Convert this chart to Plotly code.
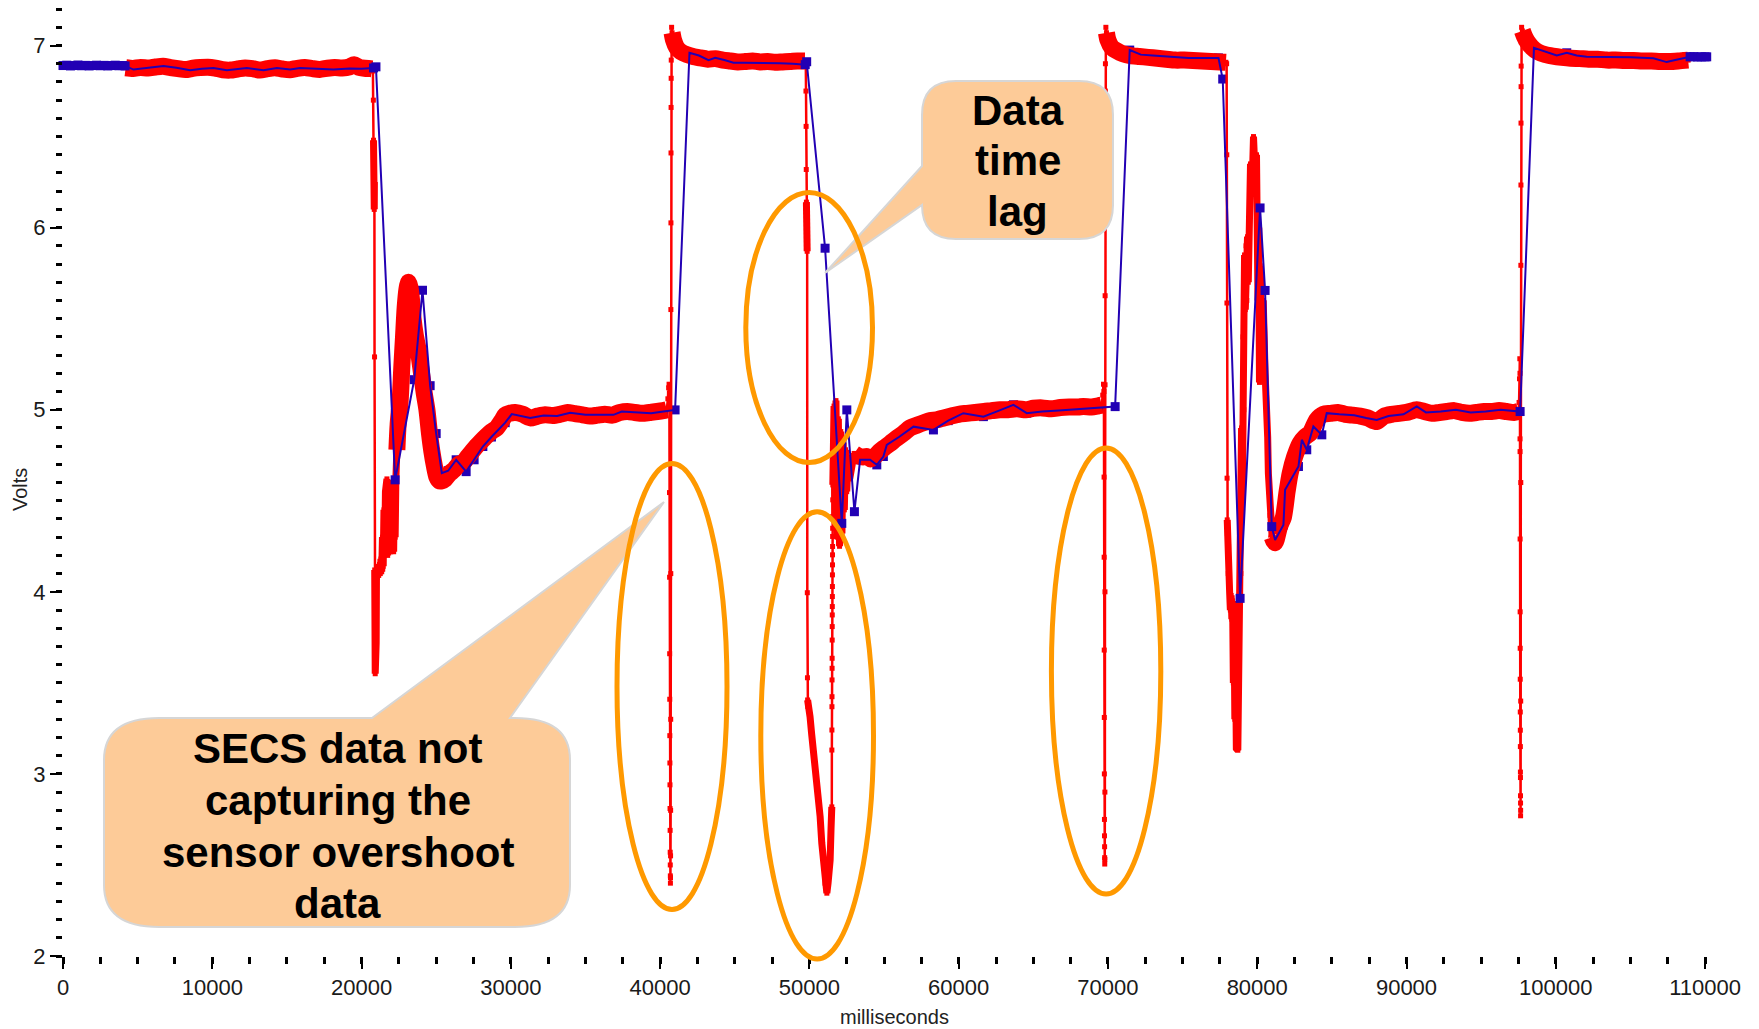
import plotly.graph_objects as go

# ---------------- data ----------------
# Sensor (high-rate) signal, milliseconds / volts
red_ms = [
    4200, 4700, 5200, 5700, 6200, 6700, 7200, 7700, 8200, 8700, 9200, 9700, 10200, 10700, 11200,
    11700, 12200, 12700, 13200, 13700, 14200, 14700, 15200, 15700, 16200, 16700, 17200, 17700,
    18200, 18700, 19200, 19500, 19800, 20200, 20600, 20700,
    20760, 20790, 20800, 20810, 20820, 20830, 20840, 20850, 20860, 20870, 20880, 20890, 20900,
    20915, 20930, 20945, 20960, 20980, 21000, 21050, 21100, 21150, 21200, 21250, 21300, 21350,
    21400, 21450, 21500, 21550, 21600, 21650, 21700, 21750, 21800, 21850, 21900, 21950, 22000,
    22050, 22100, 22150, 22200, 22250, 22300,
    22367, 22450, 22588, 22700, 22810, 22920, 23037, 23144, 23250, 23350, 23450, 23600, 23812,
    24000, 24200, 24377, 24550, 24712, 24880, 25047, 25200, 25382, 25600, 25900, 26200, 26500,
    26825, 27100, 27400, 27700, 27945, 28300, 28700, 29057, 29400, 29621, 29900, 30300, 30800,
    31300, 31800, 32300, 32800, 33300, 33800, 34300, 34800, 35300, 35800, 36300, 36800, 37300,
    37800, 38300, 38800, 39300, 39800, 40200, 40450,
    40520, 40570, 40600, 40620, 40630, 40635, 40640, 40645, 40650, 40655, 40660, 40665, 40670,
    40675, 40680, 40685, 40690, 40695, 40700, 40705, 40710, 40715, 40720, 40725, 40730, 40735,
    40740, 40745, 40755, 40770, 40800,
    40900, 41100, 41400, 41800, 42200, 42700, 43200, 43700, 44200, 44700, 45200, 45700, 46200,
    46700, 47200, 47700, 48200, 48700, 49200, 49700,
    49760, 49770, 49780, 49790, 49800, 49810, 49820, 49830, 49840, 49850, 49860, 49870, 49880,
    49900, 50043, 50150, 50269, 50380, 50494, 50600, 50719, 50830, 50945, 51050, 51170, 51250,
    51388, 51450, 51501, 51505,
    51508, 51511, 51514, 51517, 51520, 51523, 51526, 51529, 51532, 51535, 51538, 51541, 51544,
    51547, 51550, 51553, 51556, 51559, 51562, 51565, 51570,
    51650, 51700, 51780, 51860, 51940, 52020, 52100, 52180, 52260, 52340, 52420, 52500, 52600,
    52700, 52850, 53000,
    53300, 53600, 53846, 54100, 54400, 54700, 55000, 55410, 55800, 56300, 56747, 57200, 57700,
    58100, 58531, 59000, 59500, 60000, 60542, 61100, 61700, 62200, 62773, 63300, 63900, 64500,
    65005, 65600, 66200, 66800, 67400, 68000, 68354, 68900, 69300, 69580,
    69650, 69700, 69730, 69740, 69745, 69750, 69755, 69760, 69765, 69770, 69775, 69780, 69785,
    69790, 69795, 69800, 69805, 69810, 69815, 69820, 69825, 69830, 69840, 69860, 69900,
    70000, 70250, 70600, 71000, 71500, 72100, 72700, 73300, 73900, 74500, 75100, 75700, 76300,
    76900, 77500, 77900,
    77950, 77960, 77970, 77980, 77990, 78000, 78020, 78040, 78060, 78080, 78100, 78150, 78200,
    78250, 78300, 78350, 78400, 78450, 78500, 78550, 78600, 78650, 78700, 78750, 78800, 78850,
    78900, 78950, 79000, 79050, 79100, 79150, 79200, 79250, 79300, 79350, 79400, 79450, 79550,
    79650, 79750, 79850, 79950, 80050, 80100, 80150, 80200, 80300, 80400, 80526, 80600, 80641,
    80700, 80746, 80800, 80858, 81000, 81100, 81196, 81500, 81754, 82000, 82203, 82500, 82873,
    83200, 83541, 83984, 84434, 84900, 85400, 85900, 86400, 86900, 87400, 88003, 88500, 89000,
    89500, 90000, 90686, 91200, 91700, 92200, 92700, 93200, 93700, 94200, 94700, 95200, 95700,
    96200, 96700, 97200, 97500,
    97540, 97570, 97590, 97600, 97603, 97606, 97609, 97612, 97615, 97618, 97621, 97624, 97627,
    97630, 97633, 97636, 97639, 97642, 97645, 97650, 97655, 97660, 97665, 97670, 97675, 97680,
    97690, 97710, 97760,
    97900, 98100, 98400, 98800, 99300, 99800, 100400, 101000, 101600, 102200, 102800, 103400,
    104000, 104600, 105200, 105800, 106400, 107000, 107600, 108200, 108866,
]
red_v = [
    6.878, 6.874, 6.880, 6.876, 6.882, 6.886, 6.879, 6.873, 6.868, 6.875, 6.879, 6.881, 6.876, 6.867, 6.865,
    6.871, 6.877, 6.873, 6.865, 6.873, 6.878, 6.871, 6.867, 6.875, 6.879, 6.873, 6.869, 6.875,
    6.879, 6.877, 6.883, 6.895, 6.881, 6.875, 6.873, 6.872,
    6.86, 6.70, 6.48, 6.22, 6.44, 6.14, 6.34, 6.10, 6.25, 5.29, 4.12, 3.60, 3.95,
    3.55, 3.88, 3.65, 4.05, 3.72, 4.12, 4.08, 4.14, 4.09, 4.15, 4.10, 4.18, 4.11,
    4.30, 4.14, 4.45, 4.20, 4.55, 4.22, 4.62, 4.20, 4.60, 4.24, 4.57, 4.22, 4.55,
    4.25, 4.60, 4.22, 4.58, 4.30, 4.62,
    4.78, 4.92, 5.05, 5.24, 5.40, 5.56, 5.66, 5.70, 5.67, 5.60, 5.50, 5.41, 5.32,
    5.21, 5.09, 5.00, 4.87, 4.77, 4.69, 4.63, 4.61, 4.61, 4.62, 4.65, 4.67, 4.70,
    4.71, 4.74, 4.77, 4.80, 4.82, 4.85, 4.88, 4.90, 4.94, 4.97, 4.98, 4.985, 4.975,
    4.955, 4.965, 4.972, 4.968, 4.975, 4.985, 4.978, 4.972, 4.965, 4.970, 4.975, 4.970, 4.985,
    4.990, 4.985, 4.980, 4.985, 4.990, 4.995, 5.000,
    5.06, 5.12, 5.14, 5.09, 4.545, 4.08, 3.66, 3.41, 3.21, 3.06, 2.94, 2.81, 2.69,
    2.57, 2.50, 2.44, 2.40, 2.43, 2.55, 2.80, 3.30, 4.10, 5.55, 6.026, 6.41, 6.66,
    6.82, 6.92, 7.03, 7.10, 7.07,
    7.03, 6.99, 6.965, 6.95, 6.94, 6.932, 6.925, 6.928, 6.920, 6.915, 6.910, 6.912, 6.915,
    6.910, 6.912, 6.908, 6.910, 6.912, 6.915, 6.915,
    6.90, 6.75, 6.556, 6.319, 6.14, 6.02, 6.10, 5.99, 6.08, 5.87, 3.995, 3.528, 3.406,
    3.37, 3.314, 3.22, 3.131, 3.04, 2.948, 2.86, 2.765, 2.62, 2.49, 2.40, 2.345, 2.40,
    2.526, 2.70, 2.819, 3.131,
    3.241, 3.369, 3.424, 3.516, 3.580, 3.635, 3.735, 3.809, 3.873, 3.919, 3.974, 4.029, 4.093,
    4.148, 4.203, 4.249, 4.304, 4.349, 4.413, 4.505, 4.587,
    5.02, 4.40, 5.05, 4.30, 4.95, 4.25, 4.88, 4.32, 4.82, 4.45, 4.78, 4.55, 4.74,
    4.62, 4.72, 4.76,
    4.745, 4.740, 4.743, 4.730, 4.745, 4.770, 4.790, 4.815, 4.840, 4.870, 4.900, 4.915, 4.930,
    4.940, 4.945, 4.955, 4.965, 4.975, 4.980, 4.985, 4.990, 4.995, 5.000, 5.000, 5.005, 5.000,
    5.008, 5.010, 5.005, 5.012, 5.015, 5.015, 5.018, 5.015, 5.020, 5.025,
    5.08, 5.14, 5.10, 4.63, 4.19, 3.68, 3.31, 3.00, 2.75, 2.66, 2.60, 2.54, 2.505,
    2.53, 2.90, 4.00, 5.137, 5.626, 6.11, 6.50, 6.75, 6.90, 7.04, 7.10, 7.07,
    7.03, 6.99, 6.97, 6.955, 6.945, 6.940, 6.935, 6.930, 6.925, 6.920, 6.920, 6.918, 6.915,
    6.912, 6.910, 6.908,
    6.90, 6.40, 5.586, 4.624, 4.395, 4.32, 4.20, 4.30, 4.10, 4.25, 4.03, 4.00, 3.90,
    3.98, 3.85, 3.95, 3.50, 3.80, 3.30, 3.60, 3.14, 3.40, 3.13, 3.45, 3.70, 4.40,
    4.10, 4.90, 4.50, 5.40, 5.00, 5.85, 5.55, 5.90, 5.60, 5.95, 5.70, 6.05, 6.35,
    6.20, 6.50, 6.30, 6.40, 5.60, 6.00, 5.15, 5.79, 5.40, 5.60, 5.20, 5.10, 4.90,
    4.85, 4.65, 4.55, 4.42, 4.30, 4.28, 4.27, 4.36, 4.41, 4.55, 4.65, 4.74, 4.816,
    4.85, 4.871, 4.944, 4.975, 4.980, 4.985, 4.975, 4.970, 4.965, 4.955, 4.935, 4.965, 4.975,
    4.980, 4.985, 5.000, 4.990, 4.980, 4.985, 4.990, 4.995, 4.985, 4.980, 4.985, 4.990, 4.990,
    4.995, 4.990, 4.985, 4.990,
    5.04, 5.17, 5.28, 5.20, 4.84, 4.77, 4.29, 3.89, 3.69, 3.52, 3.34, 3.24, 3.15,
    3.01, 2.98, 2.88, 2.84, 2.77, 2.80, 3.40, 4.60, 5.793, 6.234, 6.574, 6.774, 6.887,
    7.02, 7.10, 7.08,
    7.05, 7.02, 6.99, 6.965, 6.950, 6.942, 6.935, 6.930, 6.928, 6.925, 6.925, 6.920,
    6.920, 6.918, 6.918, 6.915, 6.915, 6.912, 6.912, 6.915, 6.920,
]

# SECS (equipment) data, milliseconds / volts
blue_ms = [
    0, 250, 500, 750, 1000, 1250, 1500, 1750, 2000, 2250, 2500, 2750, 3000, 3250, 3500, 3750,
    4000, 4160, 4724, 5500, 6731, 7600, 8520, 9300, 10081, 10978, 11600, 12316, 13432, 14329,
    15216, 15885, 17000, 18116, 19200, 20000, 20800, 20964,
    22249, 23527, 24082, 24594, 24999, 25375, 25800, 26337, 27006, 27540, 28126, 28700, 29621,
    30065, 31296, 32200, 33100, 33972, 35000, 36000, 36871, 37434, 38500, 39400, 40223, 41003,
    41966, 42600, 43241, 43690, 44300, 44916, 45600, 46256, 47100, 48044, 48900, 49719, 49818,
    51051, 52170, 52507, 53016, 53397, 54064, 54515, 54955, 55183, 56000, 56972, 58309, 59300,
    60313, 61657, 62700, 63666, 64561, 65600, 66700, 67688, 68600, 69477, 70481,
    71458, 72200, 73000, 73800, 74600, 75400, 76200, 77000, 77402, 77688,
    78852, 80190, 80526, 80972, 81196, 81754, 81866, 82761, 82986, 83317, 83761, 84325, 84656,
    85500, 86500, 87300, 88003, 88800, 89800, 90686, 91300, 92300, 93300, 94300, 95300, 96300,
    97000, 97610,
    98538, 99300, 100064, 100734, 101400, 102071, 103000, 103858, 105000, 106533, 107429, 108000,
    108547, 108770, 109000, 109250, 109500, 109750, 110000, 110110,
]
blue_v = [
    6.890, 6.892, 6.888, 6.890, 6.893, 6.889, 6.891, 6.888, 6.890, 6.892, 6.889, 6.891, 6.888, 6.890, 6.892, 6.889,
    6.890, 6.888, 6.868, 6.875, 6.887, 6.878, 6.864, 6.872, 6.877, 6.864, 6.870, 6.877, 6.864, 6.877,
    6.868, 6.877, 6.872, 6.868, 6.874, 6.872, 6.877, 6.883,
    4.615, 5.165, 5.656, 5.132, 4.869, 4.652, 4.665, 4.725, 4.660, 4.725, 4.798, 4.850, 4.929,
    4.976, 4.954, 4.968, 4.965, 4.983, 4.972, 4.972, 4.972, 4.990, 4.985, 4.980, 4.990, 4.999,
    6.960, 6.945, 6.920, 6.933, 6.920, 6.906, 6.906, 6.906, 6.904, 6.902, 6.900, 6.895, 6.911,
    5.887, 4.376, 4.999, 4.440, 4.725, 4.725, 4.697, 4.743, 4.807, 4.850, 4.907, 4.889, 4.940,
    4.981, 4.962, 4.995, 5.027, 4.981, 4.990, 4.995, 5.000, 5.005, 5.008, 5.017,
    6.975, 6.950, 6.945, 6.940, 6.935, 6.932, 6.932, 6.930, 6.932, 6.816,
    3.964, 6.108, 5.655, 4.358, 4.285, 4.367, 4.560, 4.688, 4.835, 4.780, 4.908, 4.862, 4.981,
    4.975, 4.970, 4.955, 4.944, 4.965, 4.975, 5.018, 4.985, 4.990, 5.000, 4.985, 4.990, 5.000,
    4.995, 4.990,
    6.987, 6.965, 6.945, 6.960, 6.945, 6.938, 6.938, 6.938, 6.935, 6.930, 6.909, 6.920,
    6.930, 6.938, 6.938, 6.939, 6.937, 6.938, 6.938, 6.938,
]

# time spans where the dense sensor samples form a solid band (steady / slow parts)
band_ranges_ms = [(4200, 20700), (22367, 40450), (40800, 49700), (53000, 69580),
                  (69900, 77900), (81000, 97500), (97760, 108866)]
# time spans where the sensor samples form a dense jagged mass (fast ringing)
mass_ranges_ms = [(20800, 20860), (20880, 22367), (49800, 49850), (49880, 51501),
                  (51570, 53000), (77990, 81000)]

x_tick_vals = [0, 10000, 20000, 30000, 40000, 50000, 60000, 70000, 80000, 90000, 100000, 110000]
x_tick_labels = ["0", "10000", "20000", "30000", "40000", "50000", "60000", "70000",
                 "80000", "90000", "100000", "110000"]
y_tick_vals = [2, 3, 4, 5, 6, 7]
y_tick_labels = ["2", "3", "4", "5", "6", "7"]

x_title = "milliseconds"
y_title = "Volts"
callout_lag_lines = ["Data", "time", "lag"]
callout_secs_lines = ["SECS data not", "capturing the", "sensor overshoot", "data"]

# ---------------- styling / geometry ----------------
RED = "#FF0000"
BLUE = "#2200B4"
ORANGE = "#FF9900"
PEACH = "#FDCB98"
EDGE = "#D6D6D6"
FONT = "Liberation Sans, Arial, Helvetica, sans-serif"

FIG_W, FIG_H = 1759, 1029
M_L, M_R, M_T, M_B = 63, 39, 0, 73
PW = FIG_W - M_L - M_R
PH = FIG_H - M_T - M_B


def px(x):
    return (x - M_L) / PW


def py(y):
    return 1 - (y - M_T) / PH


def P(x, y):
    return f"{px(x):.5f},{py(y):.5f}"


def in_ranges(m, ranges):
    return any(a <= m <= b for a, b in ranges)


def subset(ranges):
    xs, ys = [], []
    for a, b in ranges:
        for m, v in zip(red_ms, red_v):
            if a <= m <= b:
                xs.append(m)
                ys.append(v)
        xs.append(None)
        ys.append(None)
    return xs, ys


band_x, band_y = subset(band_ranges_ms)
mass_x, mass_y = subset(mass_ranges_ms)

blue_under_x = [m for m in blue_ms if in_ranges(m, band_ranges_ms)]
blue_under_y = [v for m, v in zip(blue_ms, blue_v) if in_ranges(m, band_ranges_ms)]
blue_over_x = [m for m in blue_ms if not in_ranges(m, band_ranges_ms)]
blue_over_y = [v for m, v in zip(blue_ms, blue_v) if not in_ranges(m, band_ranges_ms)]

fig = go.Figure()
fig.add_trace(go.Scatter(x=blue_under_x, y=blue_under_y, mode="markers",
                         marker=dict(symbol="square", size=9, color=BLUE),
                         hoverinfo="skip", showlegend=False, cliponaxis=False))
fig.add_trace(go.Scatter(x=band_x, y=band_y, mode="lines",
                         line=dict(color=RED, width=17, shape="spline", smoothing=0.7),
                         hoverinfo="skip", showlegend=False, connectgaps=False))
fig.add_trace(go.Scatter(x=mass_x, y=mass_y, mode="lines",
                         line=dict(color=RED, width=7),
                         hoverinfo="skip", showlegend=False, connectgaps=False))
fig.add_trace(go.Scatter(x=red_ms, y=red_v, mode="lines+markers", name="Sensor",
                         line=dict(color=RED, width=2.5),
                         marker=dict(symbol="square", size=5, color=RED),
                         showlegend=False, cliponaxis=False))
fig.add_trace(go.Scatter(x=blue_ms, y=blue_v, mode="lines", name="SECS",
                         line=dict(color=BLUE, width=2), showlegend=False))
fig.add_trace(go.Scatter(x=blue_over_x, y=blue_over_y, mode="markers",
                         marker=dict(symbol="square", size=9, color=BLUE),
                         hoverinfo="skip", showlegend=False, cliponaxis=False))

shapes = []
# callout balloons
x0, x1, y0, y1, r = 922, 1113, 81, 239, 34
lag_path = (f"M {P(x0 + r, y0)} L {P(x1 - r, y0)} Q {P(x1, y0)} {P(x1, y0 + r)} "
            f"L {P(x1, y1 - r)} Q {P(x1, y1)} {P(x1 - r, y1)} L {P(x0 + r, y1)} "
            f"Q {P(x0, y1)} {P(x0, y1 - r)} L {P(825, 273)} L {P(x0, 166)} "
            f"L {P(x0, y0 + r)} Q {P(x0, y0)} {P(x0 + r, y0)} Z")
shapes.append(dict(type="path", xref="paper", yref="paper", path=lag_path,
                   fillcolor=PEACH, line=dict(color=EDGE, width=2), layer="above"))
x0, x1, y0, y1, rx, ry = 104, 570, 718, 927, 55, 42
secs_path = (f"M {P(x0 + rx, y0)} L {P(372, y0)} L {P(664, 502)} L {P(510, y0)} "
             f"L {P(x1 - rx, y0)} Q {P(x1, y0)} {P(x1, y0 + ry)} L {P(x1, y1 - ry)} "
             f"Q {P(x1, y1)} {P(x1 - rx, y1)} L {P(x0 + rx, y1)} Q {P(x0, y1)} {P(x0, y1 - ry)} "
             f"L {P(x0, y0 + ry)} Q {P(x0, y0)} {P(x0 + rx, y0)} Z")
shapes.append(dict(type="path", xref="paper", yref="paper", path=secs_path,
                   fillcolor=PEACH, line=dict(color=EDGE, width=2), layer="above"))

# orange ellipses (pixel boxes)
for ex0, ex1, ey0, ey1 in [(617, 727, 463.5, 909.5), (745.8, 872.5, 192.5, 462.5),
                           (760.8, 873.5, 511.8, 959), (1051.4, 1160.8, 448, 894)]:
    shapes.append(dict(type="circle", xref="paper", yref="paper",
                       x0=px(ex0), x1=px(ex1), y0=py(ey1), y1=py(ey0),
                       line=dict(color=ORANGE, width=5), layer="above"))

annotations = []
for txt, yy in zip(callout_lag_lines, [110, 161, 212]):
    annotations.append(dict(text=txt, x=px(1017.5), y=py(yy), xref="paper", yref="paper",
                            xanchor="center", yanchor="middle", showarrow=False,
                            font=dict(family=FONT, size=42, color="black", weight="bold")))
for txt, yy in zip(callout_secs_lines, [748, 800, 852, 903]):
    annotations.append(dict(text=txt, x=px(337.7), y=py(yy), xref="paper", yref="paper",
                            xanchor="center", yanchor="middle", showarrow=False,
                            font=dict(family=FONT, size=42, color="black", weight="bold")))
annotations.append(dict(text=x_title, x=px(894), y=py(1017), xref="paper", yref="paper",
                        xanchor="center", yanchor="middle", showarrow=False,
                        font=dict(family=FONT, size=20, color="#222")))
annotations.append(dict(text=y_title, x=px(20), y=py(490), xref="paper", yref="paper",
                        xanchor="center", yanchor="middle", showarrow=False, textangle=-90,
                        font=dict(family=FONT, size=20, color="#222")))

fig.update_layout(
    width=FIG_W, height=FIG_H,
    margin=dict(l=M_L, r=M_R, t=M_T, b=M_B, pad=0),
    paper_bgcolor="white", plot_bgcolor="white",
    showlegend=False,
    shapes=shapes, annotations=annotations,
    xaxis=dict(range=[0, 111000], tickmode="array", tickvals=x_tick_vals, ticktext=x_tick_labels,
               ticks="outside", ticklen=12, tickwidth=2, tickcolor="black",
               minor=dict(tickmode="linear", tick0=0, dtick=2500, ticks="outside",
                          ticklen=7, tickwidth=2.5, tickcolor="black"),
               showgrid=False, zeroline=False, showline=False, automargin=False,
               tickfont=dict(family=FONT, size=22, color="#1a1a1a")),
    yaxis=dict(range=[2, 7.25], tickmode="array", tickvals=y_tick_vals, ticktext=y_tick_labels,
               ticks="outside", ticklen=12, tickwidth=2, tickcolor="black",
               minor=dict(tickmode="linear", tick0=2, dtick=0.1, ticks="outside",
                          ticklen=6, tickwidth=2.5, tickcolor="black"),
               showgrid=False, zeroline=False, showline=False, automargin=False,
               tickfont=dict(family=FONT, size=22, color="#1a1a1a")),
)

fig.write_html("out.html",
               config={"displayModeBar": False},
               post_script="document.body.style.margin='0px';"
                           "document.body.style.overflow='hidden';")
